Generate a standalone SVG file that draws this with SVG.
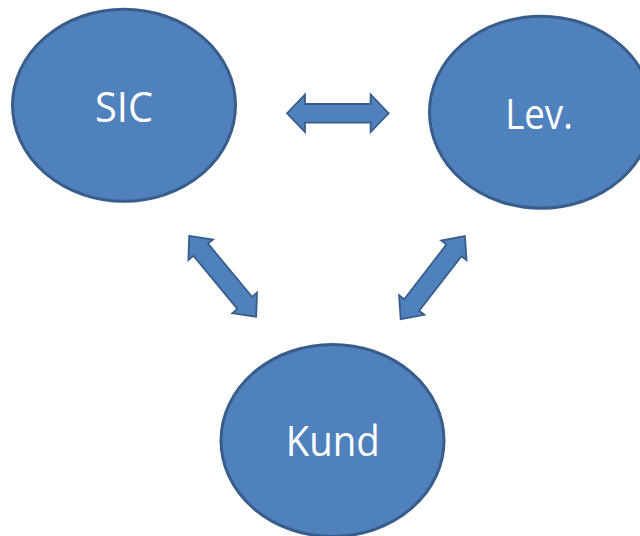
<svg xmlns="http://www.w3.org/2000/svg" width="640" height="536" viewBox="0 0 640 536">
  <style>
    .node { fill: #4F81BD; stroke: #385D8A; stroke-width: 3; }
    .arrow { fill: #4F81BD; stroke: #385D8A; stroke-width: 1.8; stroke-linejoin: miter; }
    .label { fill: #FFFFFF; font-family: "Open Sans", "Liberation Sans", sans-serif; font-size: 42px; text-anchor: middle; }
  </style>
  <rect width="640" height="536" fill="#FFFFFF"/>
  <g id="connectors">
    <path class="arrow" d="M 287 113.3 L 305 94.5 L 305 104 L 370.6 104 L 370.6 94.5 L 388.6 113.3 L 370.6 132 L 370.6 122.6 L 305 122.6 L 305 132 Z"/>
    <path class="arrow" transform="translate(222.7 276.3) rotate(50.4)" d="M -52.5 0 L -34.5 -16 L -34.5 -9.5 L 34.5 -9.5 L 34.5 -16 L 52.5 0 L 34.5 16 L 34.5 9.5 L -34.5 9.5 L -34.5 16 Z"/>
    <path class="arrow" transform="translate(432.8 277.7) rotate(-52.3)" d="M -52.5 0 L -34.5 -16 L -34.5 -9.5 L 34.5 -9.5 L 34.5 -16 L 52.5 0 L 34.5 16 L 34.5 9.5 L -34.5 9.5 L -34.5 16 Z"/>
  </g>
  <g id="node-sic">
    <ellipse class="node" cx="124" cy="105.3" rx="111.5" ry="96"/>
    <text class="label" x="124" y="122" textLength="58" lengthAdjust="spacingAndGlyphs">SIC</text>
  </g>
  <g id="node-lev">
    <ellipse class="node" cx="541" cy="112.2" rx="111.5" ry="96"/>
    <text class="label" x="539" y="129" textLength="67.6" lengthAdjust="spacingAndGlyphs">Lev.</text>
  </g>
  <g id="node-kund">
    <ellipse class="node" cx="332.5" cy="440.5" rx="111.5" ry="96"/>
    <text class="label" x="332.7" y="456.4" textLength="94" lengthAdjust="spacingAndGlyphs">Kund</text>
  </g>
</svg>
